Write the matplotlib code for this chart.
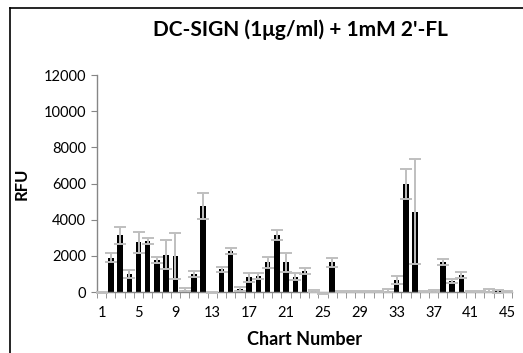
import matplotlib
matplotlib.use("Agg")
import matplotlib.pyplot as plt
from matplotlib.lines import Line2D
import numpy as np

plt.rcParams['font.family'] = ['Lato', 'DejaVu Sans']

chart_numbers = list(range(1, 46))
rfu = [-20, 1900, 3130, 1000, 2760, 2820, 1770, 2070, 1970, 120,
       1000, 4760, -40, 1250, 2270, 180, 810, 900, 1640, 3130,
       1640, 850, 1160, 60, -70, 1640, 20, 20, 40, 20,
       20, 80, 660, 5970, 4440, 30, 40, 1640, 610, 940,
       10, 20, 80, 40, 20]
err = [30, 230, 480, 220, 580, 180, 180, 800, 1270, 90,
       160, 700, 20, 150, 170, 110, 260, 170, 310, 280,
       530, 180, 180, 60, 20, 260, 20, 20, 40, 20,
       20, 60, 230, 810, 2900, 40, 50, 170, 130, 150,
       20, 20, 80, 70, 30]
tick_labels = [1, 5, 9, 13, 17, 21, 25, 29, 33, 37, 41, 45]
y_ticks = [0, 2000, 4000, 6000, 8000, 10000, 12000]

W, H = 523, 353
fig = plt.figure(figsize=(W / 100, H / 100), dpi=100)
ax = fig.add_axes([97 / W, 1 - 292 / H, (512 - 97) / W, (292 - 75) / H])

axis_grey = '#868686'
ax.bar(chart_numbers, rfu, width=0.6, color='black', zorder=2, clip_on=False)
ax.errorbar(chart_numbers, rfu, yerr=err, fmt='none', ecolor='#bfbfbf',
            elinewidth=1.4, capsize=4.6, capthick=1.4, zorder=3, clip_on=False)

ax.set_xlim(0.5, 45.5)
ax.set_ylim(0, 12000)
ax.set_yticks(y_ticks)
ax.set_yticklabels([str(v) for v in y_ticks], fontsize=10.5)
ax.set_xticks(tick_labels)
ax.set_xticklabels([str(v) for v in tick_labels], fontsize=10.5)
ax.set_xticks(np.arange(0.5, 46, 1), minor=True)
ax.tick_params(axis='x', which='major', length=0, pad=10)
ax.tick_params(axis='x', which='minor', length=4, color=axis_grey, direction='out')
ax.tick_params(axis='y', which='major', length=4, color=axis_grey, direction='out', pad=4)

for s in ['top', 'right']:
    ax.spines[s].set_visible(False)
for s in ['left', 'bottom']:
    ax.spines[s].set_color(axis_grey)
    ax.spines[s].set_linewidth(1.0)

ax.set_xlabel('Chart Number', fontsize=13, fontweight='bold', labelpad=8)
ax.set_ylabel('RFU', fontsize=12, fontweight='bold', labelpad=10)

fig.text(300 / W, 1 - 30 / H, "DC-SIGN (1\u03bcg/ml) + 1mM 2'-FL", ha='center', va='center',
         fontsize=15, fontweight='bold')

# chart-area border (cut at right and bottom)
fig.add_artist(Line2D([10 / W, 10 / W], [0, 1 - 8 / H], color='black', lw=1.2, transform=fig.transFigure))
fig.add_artist(Line2D([10 / W, 1], [1 - 8 / H, 1 - 8 / H], color='black', lw=1.2, transform=fig.transFigure))

fig.savefig('out.png', dpi=100)
